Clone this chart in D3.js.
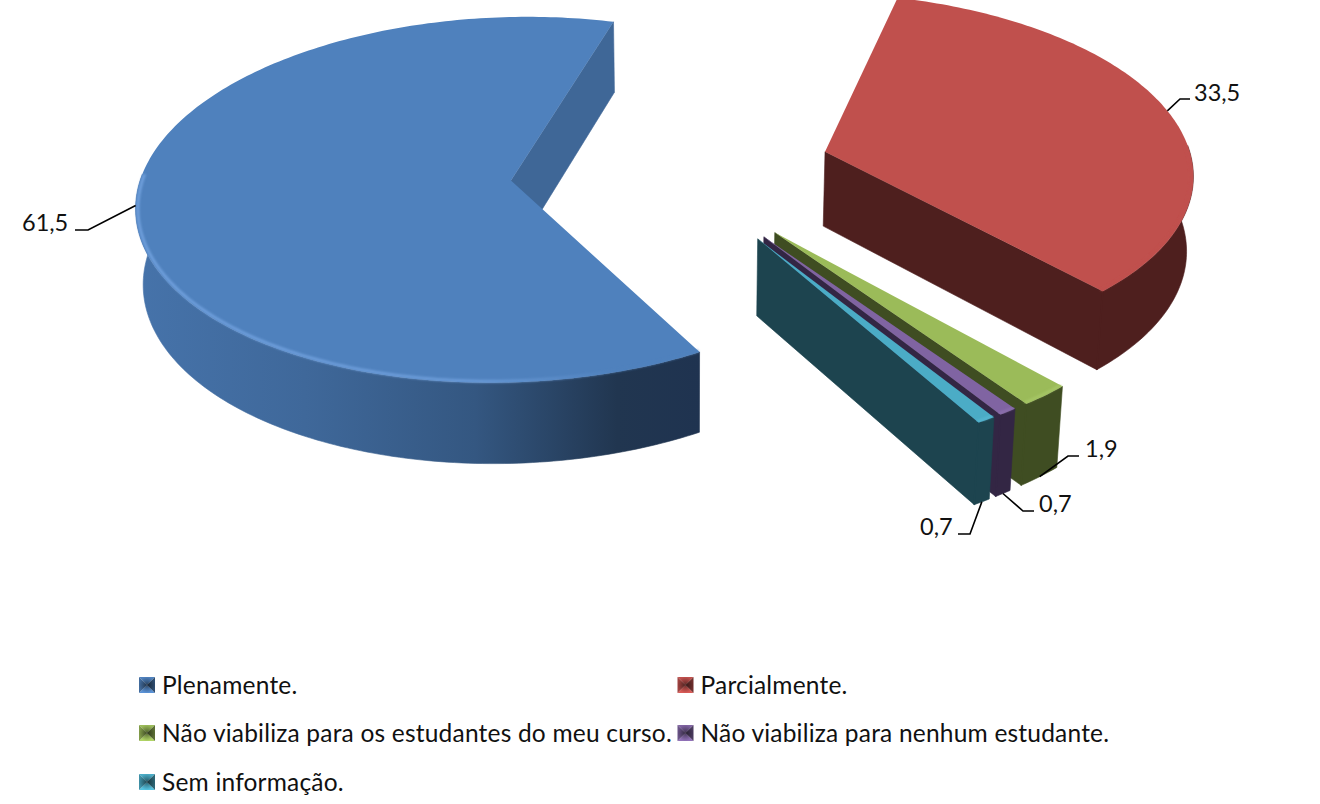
<!DOCTYPE html>
<html><head><meta charset="utf-8">
<script src="https://cdnjs.cloudflare.com/ajax/libs/d3/7.8.5/d3.min.js"></script>
<style>html,body{margin:0;padding:0;background:#fff}svg{display:block}text{font-family:Lato,"Open Sans",sans-serif;fill:#111}</style>
</head><body><svg id="c" width="1320" height="804"></svg>
<script>
const categories=["Plenamente.","Parcialmente.","Não viabiliza para os estudantes do meu curso.","Não viabiliza para nenhum estudante.","Sem informação."];
const values=[61.5,33.5,1.9,0.7,0.7];
const valueLabels=["61,5","33,5","1,9","0,7","0,7"];
const topColors=["#4f81bd","#c0504d","#9bbb59","#8064a2","#4bacc6"];
const wallColors=["#3f6797","#4e1f1e","#3f4d22","#332644","#1d444f"];
const rimColors=["#6f9fdc","#c0504d","#a9c96a","#8e72b0","#58b8d2"];
const deg=Math.PI/180;
const Cx=689,Cy=170,F=3100,D=820,elev=29*deg,R=97.5,H=23,E=42.4,U0=-4.8;
function proj(u,v,z){const d=D-v*Math.cos(elev)-z*Math.sin(elev);
  return [Cx+F*u/d, Cy+F*(v*Math.sin(elev)-z*Math.cos(elev))/d];}
const pie=d3.pie().sort(null).startAngle(149.6*deg).endAngle(509.6*deg);
const arcs=pie(values);
const svg=d3.select("#c"),defs=svg.append("defs");
const line=d3.line();
arcs.forEach(a=>{a.mid=(a.startAngle+a.endAngle)/2;a.ou=U0+E*Math.sin(a.mid);a.ov=-E*Math.cos(a.mid);});
const pt=(a,ang,r,z)=>proj(a.ou+r*Math.sin(ang),a.ov-r*Math.cos(ang),z);
const arcPts=(a,r,z,a0=a.startAngle,a1=a.endAngle)=>{const n=Math.max(4,Math.ceil((a1-a0)/deg));return d3.range(n+1).map(i=>pt(a,a0+(a1-a0)*i/n,r,z));};
defs.append("filter").attr("id","soft").attr("x","-5%").attr("y","-5%").attr("width","110%").attr("height","110%").append("feGaussianBlur").attr("stdDeviation",0.9);
const g0=defs.append("linearGradient").attr("id","blueSide").attr("gradientUnits","userSpaceOnUse").attr("x1",135).attr("x2",702).attr("y1",0).attr("y2",0);
[[0,"#4673aa"],[.3,"#3f689a"],[.6,"#345781"],[.85,"#213650"],[1,"#1f3350"]].forEach(s=>g0.append("stop").attr("offset",s[0]).attr("stop-color",s[1]));
const g1=defs.append("linearGradient").attr("id","blueRim").attr("gradientUnits","userSpaceOnUse").attr("x1",135).attr("x2",702).attr("y1",0).attr("y2",0);
[[0,"#6f9fdc",1],[.6,"#6f9fdc",.85],[.85,"#4f81bd",.8],[1,"#4f81bd",.8]].forEach(s=>g1.append("stop").attr("offset",s[0]).attr("stop-color",s[1]).attr("stop-opacity",s[2]));
const sw=defs.append("radialGradient").attr("id","swShade");
[[0,"#000",.5],[1,"#000",0]].forEach(s=>sw.append("stop").attr("offset",s[0]).attr("stop-color",s[1]).attr("stop-opacity",s[2]));
const body=svg.append("g");
const frontA0=88*deg,frontA1=272*deg;
[0,1,2,3,4].forEach(i=>{const a=arcs[i],g=body.append("g");
  const edge=a.endAngle;
  const fill=i==0?"url(#blueSide)":wallColors[i];
  const turn=a.startAngle>=2*Math.PI?2*Math.PI:0;
  g.append("path").attr("d",line([pt(a,0,0,0),pt(a,edge,R,0),pt(a,edge,R,-H),pt(a,0,0,-H)])+"Z").attr("fill",wallColors[i]).attr("stroke",wallColors[i]).attr("stroke-width",.6);
  const f0=Math.max(a.startAngle,frontA0+turn),f1=Math.min(a.endAngle,frontA1+turn);
  g.append("path").attr("d",line(arcPts(a,R,0,f0,f1).concat(arcPts(a,R,-H,f0,f1).reverse()))+"Z").attr("fill",fill).attr("stroke",fill).attr("stroke-width",.6);
  if(i>0)g.append("path").attr("d",line([pt(a,edge,R,0),pt(a,edge,R,-H)])).attr("stroke",wallColors[i]).attr("stroke-width",1.6).attr("fill","none");
  const top=arcPts(a,R,0);
  g.append("path").attr("d",line([pt(a,0,0,0)].concat(top))+"Z").attr("fill",topColors[i]);
  g.append("path").attr("d",line(arcPts(a,R-.6,0,f0,f1))).attr("fill","none").attr("stroke",i==0?"url(#blueRim)":rimColors[i]).attr("stroke-width",i==0?3:2).attr("filter","url(#soft)");
});
const leaderBends=[[[88,230],[75,230]],[[1180,99],[1190,99]],[[1068,456],[1079,456]],[[1023,511],[1034,511]],[[970,534],[958,534]]];
const labelPos=[[22,231],[1194,101],[1085,457],[1039,512],[920,535]];
arcs.forEach((a,i)=>{const start=i<2?pt(a,a.mid,R,0):pt(a,a.mid,R,-H);
  svg.append("path").attr("d",line([start,...leaderBends[i]])).attr("fill","none").attr("stroke","#000").attr("stroke-width",1.6);
  svg.append("text").attr("x",labelPos[i][0]).attr("y",labelPos[i][1]).attr("font-size",23.5).text(valueLabels[i]);
});
const legendX=[139,677.5],legendY=[685,733,782];
const lg=svg.append("g");
categories.forEach((c,i)=>{const col=i%2,row=Math.floor(i/2),x=legendX[col],y=legendY[row],s=16,h=s/2;
  const g=lg.append("g").attr("transform",`translate(${x},${y-h})`);
  const base=d3.color(topColors[i]);
  const tri=(p,col)=>g.append("path").attr("d",line(p)+"Z").attr("fill",col);
  tri([[0,0],[s,0],[h,h]],base);
  tri([[0,s],[s,s],[h,h]],base.brighter(.35));
  tri([[0,0],[0,s],[h,h]],base.darker(.5));
  tri([[s,0],[s,s],[h,h]],base.darker(1.5));
  g.append("rect").attr("width",s).attr("height",s).attr("fill","url(#swShade)");
  lg.append("text").attr("x",x+23).attr("y",y+8.7).attr("font-size",24.5).attr("letter-spacing",.2).text(c);
});
</script></body></html>
